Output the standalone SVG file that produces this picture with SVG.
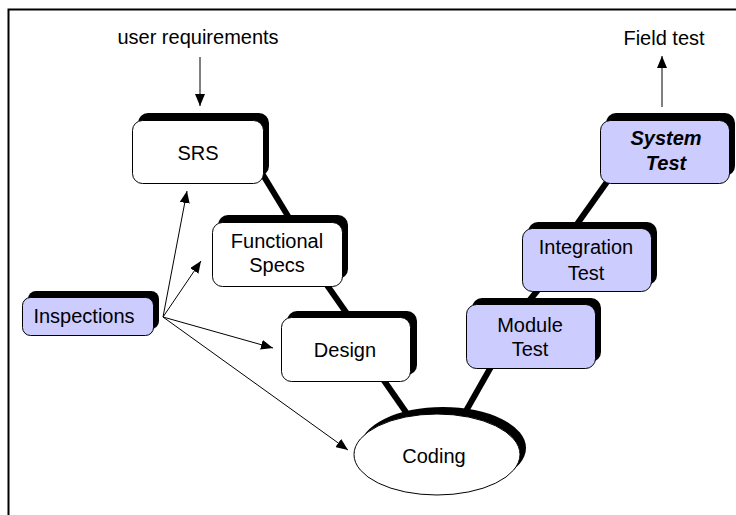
<svg xmlns="http://www.w3.org/2000/svg" width="736" height="515" viewBox="0 0 736 515">
<defs>
<style>
text{font-family:"Liberation Sans",Arial,sans-serif;font-size:20px;fill:#000;text-anchor:middle}
.sh{fill:#000}
.box{fill:#fff;stroke:#000;stroke-width:1}
.lav{fill:#ccccff;stroke:#000;stroke-width:1}
.thick{stroke:#000;stroke-width:6;fill:none}
.thin{stroke:#000;stroke-width:1;fill:none}
.bi{font-weight:bold;font-style:italic}
</style>
<marker id="ah" markerWidth="12" markerHeight="10" refX="12" refY="5" orient="auto" markerUnits="userSpaceOnUse">
<path d="M0,0 L12,5 L0,10 Z" fill="#000"/>
</marker>
</defs>
<rect width="736" height="515" fill="#fff"/>
<path d="M8.5,515 V9.5 H736" fill="none" stroke="#000" stroke-width="2"/>
<g id="connectors">
<line class="thick" x1="260" y1="170" x2="294" y2="226"/>
<line class="thick" x1="322" y1="278" x2="350" y2="318"/>
<line class="thick" x1="378" y1="372" x2="410" y2="418"/>
<line class="thick" x1="462" y1="418" x2="496" y2="358"/>
<line class="thick" x1="520" y1="312" x2="546" y2="280"/>
<line class="thick" x1="570" y1="234" x2="614" y2="172"/>
<line class="thin" x1="200" y1="57" x2="200" y2="106" marker-end="url(#ah)"/>
<line class="thin" x1="662" y1="107" x2="662" y2="56" marker-end="url(#ah)"/>
<line class="thin" x1="163" y1="317" x2="187" y2="191" marker-end="url(#ah)"/>
<line class="thin" x1="163" y1="317" x2="201" y2="261" marker-end="url(#ah)"/>
<line class="thin" x1="163" y1="317" x2="273" y2="348" marker-end="url(#ah)"/>
<line class="thin" x1="163" y1="317" x2="348" y2="450" marker-end="url(#ah)"/>
</g>
<g id="user-requirements"><text x="198" y="44">user requirements</text></g>
<g id="field-test"><text x="664" y="45">Field test</text></g>
<g id="srs">
<rect class="sh" x="138" y="113" width="131" height="63" rx="10"/>
<rect class="box" x="132.5" y="120.5" width="131" height="63" rx="10"/>
<text x="198" y="160">SRS</text>
</g>
<g id="functional-specs">
<rect class="sh" x="218" y="215" width="130" height="64" rx="10"/>
<rect class="box" x="212.5" y="222.5" width="130" height="64" rx="10"/>
<text x="277" y="248">Functional</text>
<text x="277" y="272">Specs</text>
</g>
<g id="design">
<rect class="sh" x="287" y="311" width="130" height="64" rx="10"/>
<rect class="box" x="281.5" y="317.5" width="129" height="64" rx="10"/>
<text x="345" y="357">Design</text>
</g>
<g id="coding">
<ellipse class="sh" cx="443" cy="448" rx="83" ry="41"/>
<ellipse class="box" cx="437" cy="454.5" rx="83" ry="40.5"/>
<text x="434" y="463">Coding</text>
</g>
<g id="inspections">
<rect class="sh" x="28" y="291" width="131" height="38" rx="8"/>
<rect class="lav" x="22.5" y="297.5" width="131" height="38" rx="8"/>
<text x="84" y="323">Inspections</text>
</g>
<g id="module-test">
<rect class="sh" x="472" y="298" width="129" height="64" rx="10"/>
<rect class="lav" x="466.5" y="304.5" width="129" height="64" rx="10"/>
<text x="530" y="332">Module</text>
<text x="530" y="356">Test</text>
</g>
<g id="integration-test">
<rect class="sh" x="528" y="222" width="129" height="63" rx="10"/>
<rect class="lav" x="522.5" y="228.5" width="129" height="63" rx="10"/>
<text x="586" y="254">Integration</text>
<text x="586" y="280">Test</text>
</g>
<g id="system-test">
<rect class="sh" x="606" y="113" width="129" height="63" rx="10"/>
<rect class="lav" x="600.5" y="120.5" width="129" height="63" rx="10"/>
<text class="bi" x="666" y="145">System</text>
<text class="bi" x="666" y="170">Test</text>
</g>
</svg>
